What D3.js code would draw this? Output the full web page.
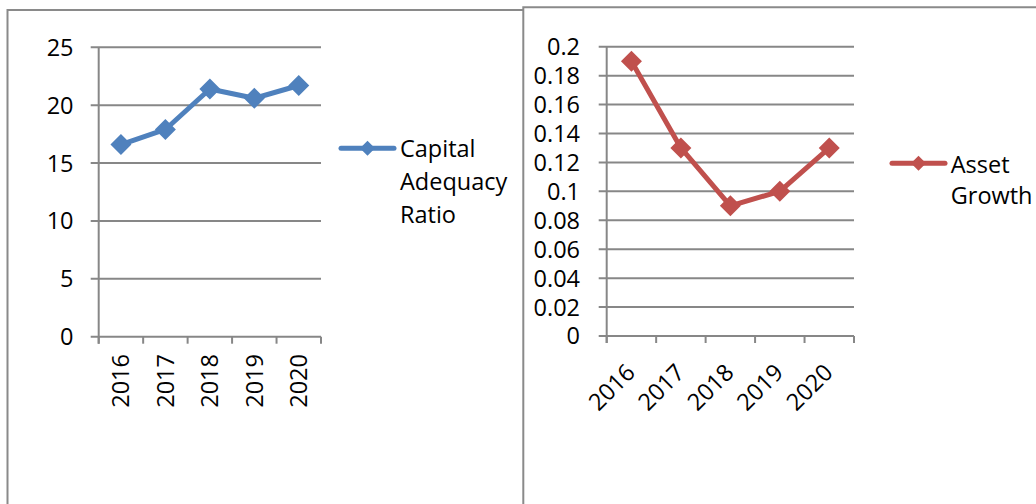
<!DOCTYPE html>
<html>
<head>
<meta charset="utf-8">
<script src="https://cdn.jsdelivr.net/npm/d3@7"></script>
<style>
  html, body { margin: 0; padding: 0; background: #fff; }
  svg { display: block; }
  text { font-family: "Open Sans", "Noto Sans", sans-serif; fill: #000; }
</style>
</head>
<body>
<svg id="chart" width="1036" height="504"></svg>
<script>
// ---- Data ----
const years = ["2016", "2017", "2018", "2019", "2020"];
const capitalAdequacy = [16.6, 17.9, 21.4, 20.6, 21.7];
const assetGrowth = [0.19, 0.13, 0.09, 0.10, 0.13];
const leftTicks = [0, 5, 10, 15, 20, 25];
const rightTicks = [0, 0.02, 0.04, 0.06, 0.08, 0.1, 0.12, 0.14, 0.16, 0.18, 0.2];
const leftLegend = ["Capital", "Adequacy", "Ratio"];
const rightLegend = ["Asset", "Growth"];

const svg = d3.select("#chart");
const gridColor = "#878787";
const fontSize = 23.5;

// chart frames
svg.append("path")
  .attr("d", "M7.5,520 V10 H523.3")
  .attr("fill", "none").attr("stroke", "#8a8a8a").attr("stroke-width", 2);
svg.append("path")
  .attr("d", "M523.3,520 V7.3 H1040")
  .attr("fill", "none").attr("stroke", "#8a8a8a").attr("stroke-width", 2);

function diamond(sel, cx, cy, r, color) {
  sel.append("path")
    .attr("d", `M${cx},${cy - r} L${cx + r},${cy} L${cx},${cy + r} L${cx - r},${cy} Z`)
    .attr("fill", color);
}

function drawChart(cfg) {
  const g = svg.append("g");
  const x = d3.scaleBand().domain(years).range([cfg.x0, cfg.x1]);
  const y = d3.scaleLinear().domain(cfg.domain).range([cfg.y0, cfg.y1]);

  // gridlines + y ticks
  g.selectAll(".grid").data(cfg.ticks).enter().append("line")
    .attr("x1", cfg.x0 - 8).attr("x2", cfg.x1)
    .attr("y1", d => y(d)).attr("y2", d => y(d))
    .attr("stroke", gridColor).attr("stroke-width", 2);

  // y axis line
  g.append("line")
    .attr("x1", cfg.x0).attr("x2", cfg.x0)
    .attr("y1", y(cfg.domain[1])).attr("y2", cfg.y0 + 7)
    .attr("stroke", gridColor).attr("stroke-width", 2);

  // x ticks at band boundaries
  const bounds = years.map(d => x(d)).concat([cfg.x1]);
  g.selectAll(".xt").data(bounds).enter().append("line")
    .attr("x1", d => d).attr("x2", d => d)
    .attr("y1", cfg.y0).attr("y2", cfg.y0 + 7)
    .attr("stroke", gridColor).attr("stroke-width", 2);

  // y tick labels
  g.selectAll(".yl").data(cfg.ticks).enter().append("text")
    .attr("x", cfg.labelX).attr("y", d => y(d))
    .attr("dy", "0.36em")
    .attr("text-anchor", "end")
    .style("font-size", fontSize + "px")
    .text(d => cfg.fmt(d));

  // x labels
  g.selectAll(".xl").data(years).enter().append("text")
    .attr("transform", d => {
      const cx = x(d) + x.bandwidth() / 2;
      return cfg.rot === -90
        ? `translate(${cx},354) rotate(-90)`
        : `translate(${cx + 5},374) rotate(-45)`;
    })
    .attr("dy", cfg.rot === -90 ? "0.36em" : "0")
    .attr("text-anchor", "end")
    .style("font-size", fontSize + "px")
    .text(d => d);

  // series line
  const line = d3.line()
    .x((d, i) => x(years[i]) + x.bandwidth() / 2)
    .y(d => y(d));
  g.append("path").datum(cfg.values)
    .attr("d", line)
    .attr("fill", "none").attr("stroke", cfg.color)
    .attr("stroke-width", 5).attr("stroke-linejoin", "round");
  cfg.values.forEach((v, i) => diamond(g, x(years[i]) + x.bandwidth() / 2, y(v), 10.5, cfg.color));

  // legend
  g.append("line")
    .attr("x1", cfg.legX0).attr("x2", cfg.legX1)
    .attr("y1", cfg.legY).attr("y2", cfg.legY)
    .attr("stroke", cfg.color).attr("stroke-width", 5).attr("stroke-linecap", "round");
  diamond(g, (cfg.legX0 + cfg.legX1) / 2, cfg.legY, 7.5, cfg.color);
  g.selectAll(".lg").data(cfg.legend).enter().append("text")
    .attr("x", cfg.legTextX)
    .attr("y", (d, i) => cfg.legBase + i * cfg.legStep)
    .style("font-size", fontSize + "px")
    .text(d => d);
}

drawChart({
  x0: 98.7, x1: 321, y0: 336.7, y1: 47.3, domain: [0, 25], ticks: leftTicks,
  fmt: d => String(d), labelX: 73.5, rot: -90, values: capitalAdequacy, color: "#4F81BD",
  legX0: 341, legX1: 394, legY: 148.3, legTextX: 400, legBase: 156.5, legStep: 33, legend: leftLegend
});

drawChart({
  x0: 606.7, x1: 854, y0: 336, y1: 46.7, domain: [0, 0.2], ticks: rightTicks,
  fmt: d => String(+d.toFixed(2)), labelX: 580, rot: -45, values: assetGrowth, color: "#C0504D",
  legX0: 892, legX1: 945, legY: 163.3, legTextX: 950.7, legBase: 172.5, legStep: 31.5, legend: rightLegend
});
</script>
</body>
</html>
